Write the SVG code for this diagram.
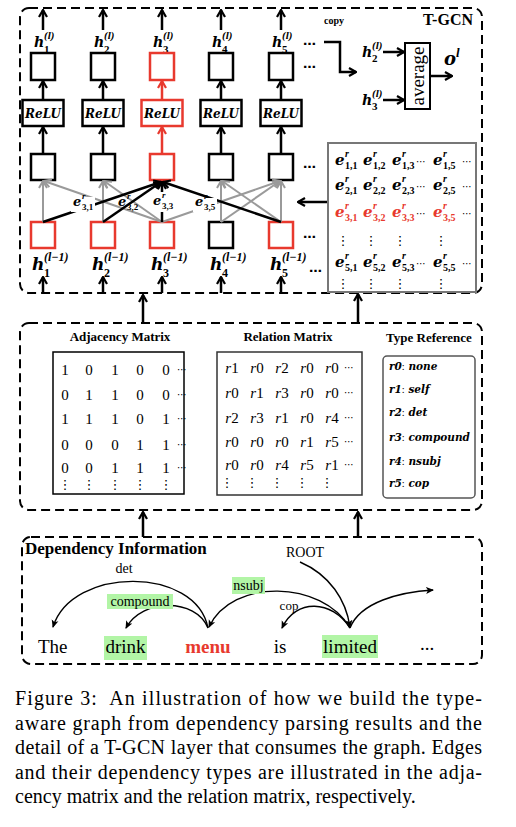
<svg xmlns="http://www.w3.org/2000/svg" width="516" height="827" viewBox="0 0 516 827">
<defs>
<marker id="ab" viewBox="0 0 10 10" refX="9" refY="5" markerWidth="10" markerHeight="10" markerUnits="userSpaceOnUse" orient="auto"><path d="M2,1 L9,5 L2,9" fill="none" stroke="#000" stroke-width="2.2"/></marker>
<marker id="ag" viewBox="0 0 10 10" refX="9" refY="5" markerWidth="10" markerHeight="10" markerUnits="userSpaceOnUse" orient="auto"><path d="M2,1 L9,5 L2,9" fill="none" stroke="#9a9a9a" stroke-width="2"/></marker>
<marker id="ar" viewBox="0 0 10 10" refX="9" refY="5" markerWidth="10" markerHeight="10" markerUnits="userSpaceOnUse" orient="auto"><path d="M2,1 L9,5 L2,9" fill="none" stroke="#e8392e" stroke-width="2.2"/></marker>
<marker id="fa" viewBox="0 0 8 8" refX="7" refY="4" markerWidth="8" markerHeight="8" markerUnits="userSpaceOnUse" orient="auto"><path d="M0,0.5 L8,4 L0,7.5 L2,4 z" fill="#000"/></marker>
<style>
.dash{fill:none;stroke:#000;stroke-width:2;stroke-dasharray:9 5}
.sq{fill:#fff;stroke:#000;stroke-width:2.5}
.sqr{fill:#fff;stroke:#e8392e;stroke-width:2.5}
.ln{stroke:#000;stroke-width:2.5;fill:none;marker-end:url(#ab)}
.lr{stroke:#e8392e;stroke-width:2.5;fill:none;marker-end:url(#ar)}
.lg{stroke:#9a9a9a;stroke-width:2;fill:none;marker-end:url(#ag)}
.arc{stroke:#000;stroke-width:1.4;fill:none;marker-end:url(#fa)}
.m{font-family:"DejaVu Serif",serif;font-weight:bold;font-style:italic}
.mi{font-family:"Liberation Serif",serif;font-weight:bold;font-style:italic}
.s{font-family:"Liberation Serif",serif;font-weight:bold}
.t{font-family:"Liberation Serif","Times New Roman",serif}
.d{font-family:"DejaVu Sans",sans-serif}
.red{fill:#e8392e}
.hl{fill:#b2f5a6}
</style>
</defs>
<rect x="0" y="0" width="516" height="827" fill="#fff"/>

<!-- containers -->
<g id="tgcn-box"><rect x="20" y="8" width="462" height="285" rx="9" class="dash"/>
<text x="473" y="25" class="s" font-size="16" text-anchor="end">T-GCN</text></g>
<g id="matrix-box"><rect x="20" y="323" width="462" height="187" rx="9" class="dash"/></g>
<g id="dep-box"><rect x="22" y="537" width="460" height="127" rx="9" class="dash"/>
<text x="25" y="554" class="s" font-size="17">Dependency Information</text></g>

<!-- T-GCN columns -->
<g id="col1">
<line x1="43" y1="30" x2="43" y2="10" class="ln"/>
<text x="34" y="47" class="m" font-size="14">h</text><text x="44" y="39" class="mi" font-size="11">(l)</text><text x="44" y="53" class="s" font-size="11">1</text>
<rect x="31" y="53" width="24" height="27" class="sq"/>
<line x1="43" y1="100" x2="43" y2="81" class="ln"/>
<rect x="22.5" y="100" width="41" height="26" class="sq"/><text x="43" y="118" class="m" font-size="12" text-anchor="middle">ReLU</text>
<line x1="43" y1="154" x2="43" y2="127" class="ln"/>
<rect x="31" y="154" width="24" height="26" class="sq"/>
<rect x="31" y="222" width="24" height="26" class="sqr"/>
<text x="32" y="270" class="m" font-size="17">h</text><text x="44" y="261" class="mi" font-size="12">(l−1)</text><text x="44" y="277" class="s" font-size="12">1</text>
<line x1="43" y1="293" x2="43" y2="277" class="ln"/>
</g>
<g id="col2">
<line x1="103" y1="30" x2="103" y2="10" class="ln"/>
<text x="94" y="47" class="m" font-size="14">h</text><text x="104" y="39" class="mi" font-size="11">(l)</text><text x="104" y="53" class="s" font-size="11">2</text>
<rect x="91" y="53" width="24" height="27" class="sq"/>
<line x1="103" y1="100" x2="103" y2="81" class="ln"/>
<rect x="82.5" y="100" width="41" height="26" class="sq"/><text x="103" y="118" class="m" font-size="12" text-anchor="middle">ReLU</text>
<line x1="103" y1="154" x2="103" y2="127" class="ln"/>
<rect x="91" y="154" width="24" height="26" class="sq"/>
<rect x="91" y="222" width="24" height="26" class="sqr"/>
<text x="92" y="270" class="m" font-size="17">h</text><text x="104" y="261" class="mi" font-size="12">(l−1)</text><text x="104" y="277" class="s" font-size="12">2</text>
<line x1="103" y1="293" x2="103" y2="277" class="ln"/>
</g>
<g id="col3">
<line x1="162" y1="30" x2="162" y2="10" class="ln"/>
<text x="153" y="47" class="m" font-size="14">h</text><text x="163" y="39" class="mi" font-size="11">(l)</text><text x="163" y="53" class="s" font-size="11">3</text>
<rect x="150" y="53" width="24" height="27" class="sqr"/>
<line x1="162" y1="100" x2="162" y2="81" class="lr"/>
<rect x="141.5" y="100" width="41" height="26" class="sqr"/><text x="162" y="118" class="m" font-size="12" text-anchor="middle">ReLU</text>
<line x1="162" y1="154" x2="162" y2="127" class="lr"/>
<rect x="150" y="154" width="24" height="26" class="sqr"/>
<rect x="150" y="222" width="24" height="26" class="sqr"/>
<text x="151" y="270" class="m" font-size="17">h</text><text x="163" y="261" class="mi" font-size="12">(l−1)</text><text x="163" y="277" class="s" font-size="12">3</text>
<line x1="162" y1="293" x2="162" y2="277" class="ln"/>
</g>
<g id="col4">
<line x1="221" y1="30" x2="221" y2="10" class="ln"/>
<text x="212" y="47" class="m" font-size="14">h</text><text x="222" y="39" class="mi" font-size="11">(l)</text><text x="222" y="53" class="s" font-size="11">4</text>
<rect x="209" y="53" width="24" height="27" class="sq"/>
<line x1="221" y1="100" x2="221" y2="81" class="ln"/>
<rect x="200.5" y="100" width="41" height="26" class="sq"/><text x="221" y="118" class="m" font-size="12" text-anchor="middle">ReLU</text>
<line x1="221" y1="154" x2="221" y2="127" class="ln"/>
<rect x="209" y="154" width="24" height="26" class="sq"/>
<rect x="209" y="222" width="24" height="26" class="sq"/>
<text x="210" y="270" class="m" font-size="17">h</text><text x="222" y="261" class="mi" font-size="12">(l−1)</text><text x="222" y="277" class="s" font-size="12">4</text>
<line x1="221" y1="293" x2="221" y2="277" class="ln"/>
</g>
<g id="col5">
<line x1="281" y1="30" x2="281" y2="10" class="ln"/>
<text x="272" y="47" class="m" font-size="14">h</text><text x="282" y="39" class="mi" font-size="11">(l)</text><text x="282" y="53" class="s" font-size="11">5</text>
<rect x="269" y="53" width="24" height="27" class="sq"/>
<line x1="281" y1="100" x2="281" y2="81" class="ln"/>
<rect x="260.5" y="100" width="41" height="26" class="sq"/><text x="281" y="118" class="m" font-size="12" text-anchor="middle">ReLU</text>
<line x1="281" y1="154" x2="281" y2="127" class="ln"/>
<rect x="269" y="154" width="24" height="26" class="sq"/>
<rect x="269" y="222" width="24" height="26" class="sqr"/>
<text x="270" y="270" class="m" font-size="17">h</text><text x="282" y="261" class="mi" font-size="12">(l−1)</text><text x="282" y="277" class="s" font-size="12">5</text>
<line x1="281" y1="293" x2="281" y2="277" class="ln"/>
</g>
<g id="dots" class="d" font-size="13" font-weight="bold">
<text x="303" y="45">…</text><text x="303" y="68">…</text><text x="303" y="168">…</text><text x="303" y="238">…</text><text x="309" y="272">…</text>
</g>

<!-- graph connectors -->
<g id="connectors">
<line x1="43" y1="222" x2="43" y2="181" class="lg"/>
<line x1="103" y1="222" x2="103" y2="181" class="lg"/>
<line x1="221" y1="222" x2="221" y2="181" class="lg"/>
<line x1="281" y1="222" x2="281" y2="181" class="lg"/>
<line x1="162" y1="222" x2="44" y2="181" class="lg"/>
<line x1="162" y1="222" x2="104" y2="181" class="lg"/>
<line x1="162" y1="222" x2="280" y2="181" class="lg"/>
<line x1="221" y1="222" x2="280" y2="181" class="lg"/>
<line x1="281" y1="222" x2="222" y2="181" class="lg"/>
<line x1="43" y1="222" x2="161" y2="182" class="ln"/>
<line x1="103" y1="222" x2="161" y2="182" class="ln"/>
<line x1="162" y1="222" x2="162" y2="182" class="ln"/>
<line x1="281" y1="222" x2="163" y2="182" class="ln"/>
<polyline points="324,42 340,42 340,72 356,72" class="ln"/>
<line x1="383" y1="52" x2="404" y2="52" class="ln"/>
<line x1="383" y1="100" x2="404" y2="100" class="ln"/>
<line x1="430" y1="76" x2="452" y2="76" class="ln"/>
<line x1="328" y1="202" x2="298" y2="202" class="ln"/>
<line x1="143" y1="323" x2="143" y2="295" class="ln"/>
<line x1="358" y1="323" x2="358" y2="294" class="ln"/>
<line x1="143" y1="537" x2="143" y2="512" class="ln"/>
<line x1="358" y1="537" x2="358" y2="512" class="ln"/>
</g>

<g id="edge-labels">
<rect x="71" y="197" width="24" height="15" fill="#fff"/>
<text x="73" y="206" class="m" font-size="13">e</text><text x="82" y="199" class="mi" font-size="9">r</text><text x="82" y="210" class="s" font-size="9">3,1</text>
<text x="118" y="206" class="m" font-size="13">e</text><text x="127" y="199" class="mi" font-size="9">r</text><text x="127" y="210" class="s" font-size="9">3,2</text>
<rect x="151" y="192" width="24" height="20" fill="#fff"/>
<text x="153" y="205" class="m" font-size="13">e</text><text x="162" y="198" class="mi" font-size="9">r</text><text x="162" y="209" class="s" font-size="9">3,3</text>
<rect x="193" y="198" width="24" height="14" fill="#fff"/>
<text x="195" y="206" class="m" font-size="13">e</text><text x="204" y="199" class="mi" font-size="9">r</text><text x="204" y="210" class="s" font-size="9">3,5</text>
</g>

<g id="copy">
<text x="324" y="24" class="s" font-size="10">copy</text>
<text x="362" y="57" class="m" font-size="14">h</text><text x="372" y="49" class="mi" font-size="11">(l)</text><text x="372" y="62" class="s" font-size="11">2</text>
<text x="362" y="105" class="m" font-size="14">h</text><text x="372" y="97" class="mi" font-size="11">(l)</text><text x="372" y="110" class="s" font-size="11">3</text>
</g>
<g id="average">
<rect x="405" y="43" width="25" height="66" fill="#fff" stroke="#000" stroke-width="2"/>
<text transform="translate(424,76) rotate(-90)" class="t" font-size="19" text-anchor="middle">average</text>
<text x="444" y="65" class="m" font-size="18">o</text><text x="456" y="57" class="mi" font-size="13">l</text>
</g>

<g id="edge-matrix">
<rect x="328" y="143" width="148" height="149" fill="#fff" stroke="#777" stroke-width="2"/>
<g>
<text x="335" y="165" class="m" font-size="15">e</text><text x="345" y="157" class="mi" font-size="10">r</text><text x="345" y="169" class="s" font-size="10">1,1</text>
<text x="363" y="165" class="m" font-size="15">e</text><text x="373" y="157" class="mi" font-size="10">r</text><text x="373" y="169" class="s" font-size="10">1,2</text>
<text x="392" y="165" class="m" font-size="15">e</text><text x="402" y="157" class="mi" font-size="10">r</text><text x="402" y="169" class="s" font-size="10">1,3</text>
<text x="433" y="165" class="m" font-size="15">e</text><text x="443" y="157" class="mi" font-size="10">r</text><text x="443" y="169" class="s" font-size="10">1,5</text>
<text x="421" y="165" class="d" font-size="10" text-anchor="middle">⋯</text><text x="467" y="165" class="d" font-size="10" text-anchor="middle">⋯</text>
</g>
<g>
<text x="335" y="190" class="m" font-size="15">e</text><text x="345" y="182" class="mi" font-size="10">r</text><text x="345" y="194" class="s" font-size="10">2,1</text>
<text x="363" y="190" class="m" font-size="15">e</text><text x="373" y="182" class="mi" font-size="10">r</text><text x="373" y="194" class="s" font-size="10">2,2</text>
<text x="392" y="190" class="m" font-size="15">e</text><text x="402" y="182" class="mi" font-size="10">r</text><text x="402" y="194" class="s" font-size="10">2,3</text>
<text x="433" y="190" class="m" font-size="15">e</text><text x="443" y="182" class="mi" font-size="10">r</text><text x="443" y="194" class="s" font-size="10">2,5</text>
<text x="421" y="190" class="d" font-size="10" text-anchor="middle">⋯</text><text x="467" y="190" class="d" font-size="10" text-anchor="middle">⋯</text>
</g>
<g class="red">
<text x="335" y="217" class="m red" font-size="15">e</text><text x="345" y="209" class="mi red" font-size="10">r</text><text x="345" y="221" class="s red" font-size="10">3,1</text>
<text x="363" y="217" class="m red" font-size="15">e</text><text x="373" y="209" class="mi red" font-size="10">r</text><text x="373" y="221" class="s red" font-size="10">3,2</text>
<text x="392" y="217" class="m red" font-size="15">e</text><text x="402" y="209" class="mi red" font-size="10">r</text><text x="402" y="221" class="s red" font-size="10">3,3</text>
<text x="433" y="217" class="m red" font-size="15">e</text><text x="443" y="209" class="mi red" font-size="10">r</text><text x="443" y="221" class="s red" font-size="10">3,5</text>
</g>
<text x="421" y="217" class="d" font-size="10" text-anchor="middle">⋯</text><text x="467" y="217" class="d" font-size="10" text-anchor="middle">⋯</text>
<g class="d" font-size="13" text-anchor="middle">
<text x="343" y="245">⋮</text><text x="371" y="245">⋮</text><text x="400" y="245">⋮</text><text x="441" y="245">⋮</text>
</g>
<g>
<text x="335" y="267" class="m" font-size="15">e</text><text x="345" y="259" class="mi" font-size="10">r</text><text x="345" y="271" class="s" font-size="10">5,1</text>
<text x="363" y="267" class="m" font-size="15">e</text><text x="373" y="259" class="mi" font-size="10">r</text><text x="373" y="271" class="s" font-size="10">5,2</text>
<text x="392" y="267" class="m" font-size="15">e</text><text x="402" y="259" class="mi" font-size="10">r</text><text x="402" y="271" class="s" font-size="10">5,3</text>
<text x="433" y="267" class="m" font-size="15">e</text><text x="443" y="259" class="mi" font-size="10">r</text><text x="443" y="271" class="s" font-size="10">5,5</text>
<text x="421" y="267" class="d" font-size="10" text-anchor="middle">⋯</text><text x="467" y="267" class="d" font-size="10" text-anchor="middle">⋯</text>
</g>
<g class="d" font-size="13" text-anchor="middle">
<text x="343" y="288">⋮</text><text x="371" y="288">⋮</text><text x="400" y="288">⋮</text><text x="441" y="288">⋮</text>
</g>
</g>

<g id="adjacency-matrix">
<text x="120" y="341" class="s" font-size="13" text-anchor="middle">Adjacency  Matrix</text>
<rect x="53" y="352" width="131" height="142" fill="#fff" stroke="#000" stroke-width="1.5"/>
<g class="t" font-size="15" text-anchor="middle">
<text y="375"><tspan x="65">1</tspan><tspan x="89">0</tspan><tspan x="115">1</tspan><tspan x="140">0</tspan><tspan x="166">0</tspan></text>
<text y="400"><tspan x="65">0</tspan><tspan x="89">1</tspan><tspan x="115">1</tspan><tspan x="140">0</tspan><tspan x="166">0</tspan></text>
<text y="424"><tspan x="65">1</tspan><tspan x="89">1</tspan><tspan x="115">1</tspan><tspan x="140">0</tspan><tspan x="166">1</tspan></text>
<text y="450"><tspan x="65">0</tspan><tspan x="89">0</tspan><tspan x="115">0</tspan><tspan x="140">1</tspan><tspan x="166">1</tspan></text>
<text y="473"><tspan x="65">0</tspan><tspan x="89">0</tspan><tspan x="115">1</tspan><tspan x="140">1</tspan><tspan x="166">1</tspan></text>
</g>
<g class="d" font-size="10" text-anchor="middle">
<text x="182" y="373">⋯</text><text x="182" y="398">⋯</text><text x="182" y="422">⋯</text><text x="182" y="448">⋯</text><text x="182" y="471">⋯</text>
</g>
<g class="d" font-size="13" text-anchor="middle">
<text x="65" y="489">⋮</text><text x="89" y="489">⋮</text><text x="115" y="489">⋮</text><text x="140" y="489">⋮</text><text x="166" y="489">⋮</text>
</g>
</g>

<g id="relation-matrix">
<text x="288" y="341" class="s" font-size="13" text-anchor="middle">Relation  Matrix</text>
<rect x="217" y="352" width="145" height="143" fill="#fff" stroke="#333" stroke-width="1.5"/>
<g class="t" font-size="15" text-anchor="middle">
<text y="373"><tspan x="232"><tspan font-style="italic">r</tspan>1</tspan><tspan x="257"><tspan font-style="italic">r</tspan>0</tspan><tspan x="282"><tspan font-style="italic">r</tspan>2</tspan><tspan x="307"><tspan font-style="italic">r</tspan>0</tspan><tspan x="332"><tspan font-style="italic">r</tspan>0</tspan></text>
<text y="398"><tspan x="232"><tspan font-style="italic">r</tspan>0</tspan><tspan x="257"><tspan font-style="italic">r</tspan>1</tspan><tspan x="282"><tspan font-style="italic">r</tspan>3</tspan><tspan x="307"><tspan font-style="italic">r</tspan>0</tspan><tspan x="332"><tspan font-style="italic">r</tspan>0</tspan></text>
<text y="423"><tspan x="232"><tspan font-style="italic">r</tspan>2</tspan><tspan x="257"><tspan font-style="italic">r</tspan>3</tspan><tspan x="282"><tspan font-style="italic">r</tspan>1</tspan><tspan x="307"><tspan font-style="italic">r</tspan>0</tspan><tspan x="332"><tspan font-style="italic">r</tspan>4</tspan></text>
<text y="447"><tspan x="232"><tspan font-style="italic">r</tspan>0</tspan><tspan x="257"><tspan font-style="italic">r</tspan>0</tspan><tspan x="282"><tspan font-style="italic">r</tspan>0</tspan><tspan x="307"><tspan font-style="italic">r</tspan>1</tspan><tspan x="332"><tspan font-style="italic">r</tspan>5</tspan></text>
<text y="470"><tspan x="232"><tspan font-style="italic">r</tspan>0</tspan><tspan x="257"><tspan font-style="italic">r</tspan>0</tspan><tspan x="282"><tspan font-style="italic">r</tspan>4</tspan><tspan x="307"><tspan font-style="italic">r</tspan>5</tspan><tspan x="332"><tspan font-style="italic">r</tspan>1</tspan></text>
</g>
<g class="d" font-size="10" text-anchor="middle">
<text x="349" y="371">⋯</text><text x="349" y="396">⋯</text><text x="349" y="421">⋯</text><text x="349" y="445">⋯</text><text x="349" y="468">⋯</text>
</g>
<g class="d" font-size="13" text-anchor="middle">
<text x="227" y="487">⋮</text><text x="252" y="487">⋮</text><text x="277" y="487">⋮</text><text x="302" y="487">⋮</text><text x="327" y="487">⋮</text>
</g>
</g>

<g id="type-reference">
<text x="429" y="342" class="s" font-size="13" text-anchor="middle">Type Reference</text>
<rect x="383" y="356" width="92" height="142" rx="4" fill="#fff" stroke="#555" stroke-width="1.5"/>
<g font-size="10.5">
<text x="389" y="370" class="m">r0<tspan class="t" font-weight="normal" font-style="normal">:</tspan> none</text>
<text x="389" y="393" class="m">r1<tspan class="t" font-weight="normal" font-style="normal">:</tspan> self</text>
<text x="389" y="416" class="m">r2<tspan class="t" font-weight="normal" font-style="normal">:</tspan> det</text>
<text x="389" y="441" class="m">r3<tspan class="t" font-weight="normal" font-style="normal">:</tspan> compound</text>
<text x="389" y="465" class="m">r4<tspan class="t" font-weight="normal" font-style="normal">:</tspan> nsubj</text>
<text x="389" y="487" class="m">r5<tspan class="t" font-weight="normal" font-style="normal">:</tspan> cop</text>
</g>
</g>

<g id="dependency-arcs">
<path d="M208,628 C196,566 72,566 53,627" class="arc"/>
<path d="M208,628 C196,598 142,598 126,628" class="arc"/>
<path d="M350,628 C322,580 232,578 209,627" class="arc"/>
<path d="M350,628 C332,600 296,598 282,628" class="arc"/>
<path d="M300,562 C330,575 346,600 350,627" class="arc"/>
<path d="M350,628 C360,602 400,592 433,590" class="arc"/>
<text x="124" y="573" class="t" font-size="14" text-anchor="middle">det</text>
<rect x="107" y="594" width="66" height="15" class="hl"/>
<text x="140" y="606" class="t" font-size="14" text-anchor="middle">compound</text>
<rect x="232" y="577" width="33" height="17" class="hl"/>
<text x="248.5" y="590" class="t" font-size="14" text-anchor="middle">nsubj</text>
<text x="289" y="610" class="t" font-size="13" text-anchor="middle">cop</text>
<text x="305" y="557" class="t" font-size="14" text-anchor="middle">ROOT</text>
</g>
<g id="words" class="t" font-size="19">
<text x="38" y="653">The</text>
<rect x="104" y="636" width="43" height="24" class="hl"/>
<text x="125.5" y="653" text-anchor="middle">drink</text>
<text x="208" y="653" text-anchor="middle" font-weight="bold" class="red">menu</text>
<text x="280" y="653" text-anchor="middle">is</text>
<rect x="322" y="635" width="56" height="23" class="hl"/>
<text x="350" y="653" text-anchor="middle">limited</text>
<text x="420" y="650">...</text>
</g>

<g id="caption" class="t" font-size="20">
<text x="15" y="705" textLength="467" lengthAdjust="spacing" xml:space="preserve">Figure 3:  An illustration of how we build the type-</text>
<text x="15" y="730" textLength="467" lengthAdjust="spacing">aware graph from dependency parsing results and the</text>
<text x="15" y="754" textLength="467" lengthAdjust="spacing">detail of a T-GCN layer that consumes the graph. Edges</text>
<text x="15" y="779" textLength="467" lengthAdjust="spacing">and their dependency types are illustrated in the adja-</text>
<text x="15" y="803">cency matrix and the relation matrix, respectively.</text>
</g>
</svg>
